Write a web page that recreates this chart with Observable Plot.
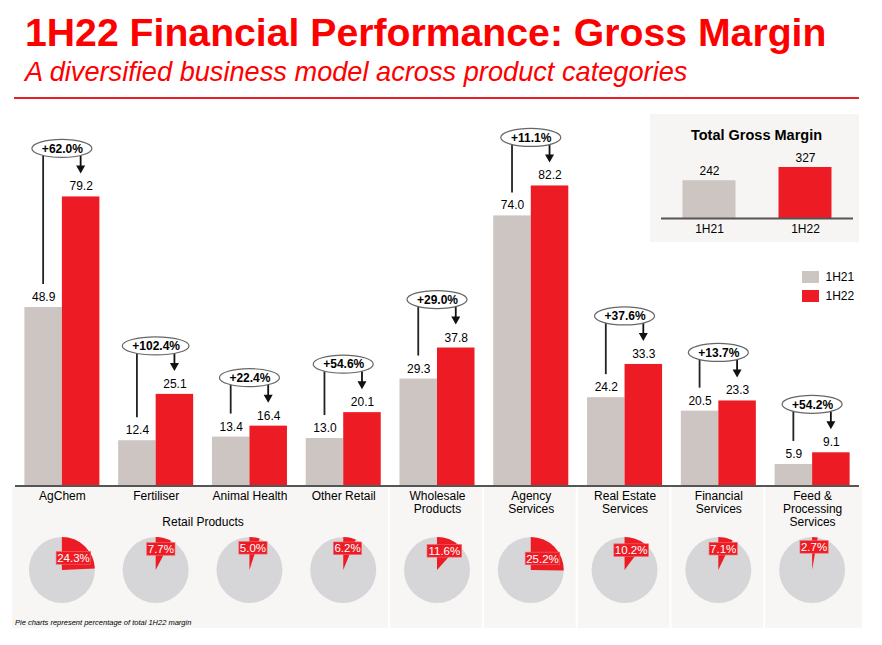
<!DOCTYPE html>
<html><head><meta charset="utf-8">
<script src="https://cdn.jsdelivr.net/npm/d3@7"></script>
<script src="https://cdn.jsdelivr.net/npm/@observablehq/plot@0.6"></script>
<style>
html,body{margin:0;padding:0;background:#fff;}
#wrap{position:relative;width:882px;height:645px;overflow:hidden;font-family:"Liberation Sans",Arial,sans-serif;}
.abs{position:absolute;white-space:nowrap;}
#title{left:25px;top:13px;font-size:39.2px;line-height:39.2px;font-weight:bold;color:#ff0000;}
#subtitle{left:25px;top:57.7px;font-size:27.2px;line-height:27.2px;font-style:italic;color:#ff0000;}
#rule{left:14px;top:96.5px;width:845px;height:2.5px;background:#e52128;}
#main{left:0;top:100px;}
#inset{left:650px;top:114px;}
#legend{left:801.5px;top:267px;font-size:12px;color:#000;}
#legend .row{display:flex;align-items:center;height:19.3px;}
#legend .sw{display:inline-block;width:17px;height:12px;margin-right:7px;}
#caption{left:15px;top:618.6px;font-size:7.5px;line-height:7.5px;font-style:italic;color:#000;}
svg{display:block;}
</style>
</head>
<body>
<div id="wrap">
  <div id="title" class="abs">1H22 Financial Performance: Gross Margin</div>
  <div id="subtitle" class="abs">A diversified business model across product categories</div>
  <div id="rule" class="abs"></div>
  <div id="main" class="abs"></div>
  <div id="inset" class="abs"></div>
  <div id="legend" class="abs"></div>
  <div id="caption" class="abs">Pie charts represent percentage of total 1H22 margin</div>
</div>
<script>
// ---------------- data ----------------
const categories = ["AgChem", "Fertiliser", "Animal Health", "Other Retail", "Wholesale Products",
  "Agency Services", "Real Estate Services", "Financial Services", "Feed & Processing Services"];
const categoryLabels = ["AgChem", "Fertiliser", "Animal Health", "Other Retail", "Wholesale\nProducts",
  "Agency\nServices", "Real Estate\nServices", "Financial\nServices", "Feed &\nProcessing\nServices"];
const margin1H21 = [48.9, 12.4, 13.4, 13.0, 29.3, 74.0, 24.2, 20.5, 5.9];
const margin1H22 = [79.2, 25.1, 16.4, 20.1, 37.8, 82.2, 33.3, 23.3, 9.1];
const growthLabels = ["+62.0%", "+102.4%", "+22.4%", "+54.6%", "+29.0%", "+11.1%", "+37.6%", "+13.7%", "+54.2%"];
const shareOf1H22Total = [24.3, 7.7, 5.0, 6.2, 11.6, 25.2, 10.2, 7.1, 2.7];
const groupLabel = "Retail Products";
const retailGroup = ["AgChem", "Fertiliser", "Animal Health", "Other Retail"];
const periods = ["1H21", "1H22"];
const totalGrossMargin = [242, 327];

// ---------------- styles ----------------
const C21 = "#cdc5c1", C22 = "#ed1c24", PIE_BG = "#d6d6d8", PANEL = "#f7f6f4";
const FONT = "Liberation Sans, Arial, sans-serif";

const rows = categories.map((c, i) => ({
  category: c, label: categoryLabels[i], v21: margin1H21[i], v22: margin1H22[i],
  growth: growthLabels[i], share: shareOf1H22Total[i]
}));

// layout
const W = 882, H = 545, mL = 15, mR = 23, mT = 20.5, mB = 159.5;
const padIn = 0.2, padOut = 0.1;
const step = (W - mL - mR) / (categories.length - padIn + 2 * padOut);
const BW = step * (1 - padIn);
const PIE_Y = 470, PIE_R = 33;

// approximate text width (Arial metrics, em)
const cw = {"0":.556,"1":.556,"2":.556,"3":.556,"4":.556,"5":.556,"6":.556,"7":.556,"8":.556,"9":.556,".":.278,"%":.889,"+":.584};
const textWidth = (s, size) => [...s].reduce((a, ch) => a + (cw[ch] ?? .556), 0) * size;

function panelMark(index, scales) {
  const x = scales.x, bw = x.bandwidth ? x.bandwidth() : BW;
  const gap = step - bw;
  const g = d3.create("svg:g");
  const top = 387, bottom = 528;
  const segs = [[0, 3], [4, 4], [5, 5], [6, 6], [7, 7], [8, 8]];
  segs.forEach(([a, b], k) => {
    const left = k === 0 ? 12 : x(categories[a]) - gap / 2 + 0;
    const right = k === segs.length - 1 ? 862 : x(categories[b]) + bw + gap / 2 - 2;
    g.append("rect").attr("x", left).attr("y", top).attr("width", right - left)
      .attr("height", bottom - top).attr("fill", PANEL);
  });
  return g.node();
}

function annotationMark(index, scales) {
  const x = scales.x, y = scales.y, bw = x.bandwidth ? x.bandwidth() : BW;
  const g = d3.create("svg:g");
  for (const r of rows) {
    const x0 = x(r.category);
    const cx = x0 + bw / 2, xl = x0 + bw / 4, xr = x0 + 3 * bw / 4;
    const cy = y(Math.max(r.v21, r.v22)) - 48;
    const rx = textWidth(r.growth, 12) / 2 + 9.5, ry = 9;
    const yl0 = cy + ry * Math.sqrt(Math.max(0, 1 - ((xl - cx) / rx) ** 2));
    const yr0 = cy + ry * Math.sqrt(Math.max(0, 1 - ((xr - cx) / rx) ** 2));
    g.append("line").attr("x1", xl).attr("x2", xl).attr("y1", yl0).attr("y2", y(r.v21) - 23)
      .attr("stroke", "#222").attr("stroke-width", 1.8);
    const tip = y(r.v22) - 23;
    g.append("line").attr("x1", xr).attr("x2", xr).attr("y1", yr0).attr("y2", tip - 6)
      .attr("stroke", "#111").attr("stroke-width", 1.8);
    g.append("path").attr("d", `M${xr - 4.5},${tip - 8}L${xr + 4.5},${tip - 8}L${xr},${tip}Z`).attr("fill", "#111");
    g.append("ellipse").attr("cx", cx).attr("cy", cy).attr("rx", rx).attr("ry", ry)
      .attr("fill", "#fff").attr("stroke", "#666").attr("stroke-width", 1.2);
  }
  return g.node();
}

function pieMark(index, scales) {
  const x = scales.x, bw = x.bandwidth ? x.bandwidth() : BW;
  const g = d3.create("svg:g");
  const arc = d3.arc().innerRadius(0).outerRadius(PIE_R);
  for (const r of rows) {
    const cx = x(r.category) + bw / 2;
    const gg = g.append("g").attr("transform", `translate(${cx},${PIE_Y})`);
    gg.append("circle").attr("r", PIE_R).attr("fill", PIE_BG);
    const a1 = r.share / 100 * 2 * Math.PI;
    gg.append("path").attr("d", arc({startAngle: 0, endAngle: a1})).attr("fill", C22);
    const mid = a1 / 2, rl = 24 - 0.3 * r.share;
    const lx = rl * Math.sin(mid), ly = -rl * Math.cos(mid);
    const label = r.share.toFixed(1) + "%";
    const tw = textWidth(label, 11.5);
    gg.append("rect").attr("x", lx - tw / 2 - 1).attr("y", ly - 6.3).attr("width", tw + 2).attr("height", 12.6)
      .attr("fill", C22).attr("stroke", "#f06a6f").attr("stroke-width", 0.6);
    gg.append("text").attr("x", lx).attr("y", ly).attr("dy", "0.36em").attr("text-anchor", "middle")
      .attr("fill", "#fff").attr("font-size", 11.5).attr("font-family", FONT).text(label);
  }
  return g.node();
}

const main = Plot.plot({
  width: W, height: H,
  marginLeft: mL, marginRight: mR, marginTop: mT, marginBottom: mB,
  x: {domain: categories, paddingInner: padIn, paddingOuter: padOut, round: false, axis: null},
  y: {domain: [0, 100], axis: null},
  style: {background: "transparent", fontFamily: FONT, fontSize: "12px", overflow: "visible", color: "#000"},
  marks: [
    panelMark,
    Plot.barY(rows, {x: "category", y: "v21", fill: C21, insetRight: BW / 2}),
    Plot.barY(rows, {x: "category", y: "v22", fill: C22, insetLeft: BW / 2}),
    Plot.ruleY([0], {stroke: "#555", strokeWidth: 2}),
    Plot.text(rows, {x: "category", y: "v21", text: d => d.v21.toFixed(1), dx: -BW / 4, dy: -6.5,
      lineAnchor: "bottom", fontSize: 12, fill: "#000"}),
    Plot.text(rows, {x: "category", y: "v22", text: d => d.v22.toFixed(1), dx: BW / 4, dy: -6.5,
      lineAnchor: "bottom", fontSize: 12, fill: "#000"}),
    annotationMark,
    Plot.text(rows, {x: "category", y: d => Math.max(d.v21, d.v22), text: "growth", dy: -48,
      lineAnchor: "middle", fontSize: 12, fontWeight: "bold", fill: "#000"}),
    Plot.text(rows, {x: "category", text: "label", frameAnchor: "bottom", lineAnchor: "top",
      dy: 5, lineHeight: 1.08, fontSize: 12, fill: "#000"}),
    Plot.text([groupLabel], {x: () => retailGroup[1], dx: step / 2, frameAnchor: "bottom",
      lineAnchor: "top", dy: 31.5, fontSize: 12, fill: "#000"}),
    pieMark
  ]
});
document.getElementById("main").appendChild(main);

// inset: total gross margin
const totals = periods.map((p, i) => ({period: p, value: totalGrossMargin[i]}));
const inset = Plot.plot({
  width: 209, height: 128,
  marginLeft: 11, marginRight: 6, marginTop: 41.6, marginBottom: 24,
  x: {domain: periods, paddingInner: 0.448, paddingOuter: 0.224, round: false, axis: null},
  y: {domain: [0, 400], axis: null},
  color: {domain: periods, range: [C21, C22]},
  style: {background: "#f7f5f3", fontFamily: FONT, fontSize: "12px", overflow: "visible", color: "#000"},
  marks: [
    Plot.barY(totals, {x: "period", y: "value", fill: "period"}),
    Plot.ruleY([0], {stroke: "#555", strokeWidth: 2}),
    Plot.text(totals, {x: "period", y: "value", text: d => String(d.value), dy: -5.7, lineAnchor: "bottom",
      fontSize: 12, fill: "#000"}),
    Plot.text(totals, {x: "period", text: "period", frameAnchor: "bottom", lineAnchor: "top", dy: 6.4,
      fontSize: 12, fill: "#000"}),
    Plot.text(["Total Gross Margin"], {frameAnchor: "top", lineAnchor: "bottom", dy: -16, dx: -1,
      fontSize: 14.5, fontWeight: "bold", fill: "#000"})
  ]
});
document.getElementById("inset").appendChild(inset);

// legend
const colors = [C21, C22];
const legend = document.getElementById("legend");
periods.forEach((p, i) => {
  const row = document.createElement("div");
  row.className = "row";
  const sw = document.createElement("span");
  sw.className = "sw";
  sw.style.background = colors[i];
  row.appendChild(sw);
  row.appendChild(document.createTextNode(p));
  legend.appendChild(row);
});
</script>
</body></html>
